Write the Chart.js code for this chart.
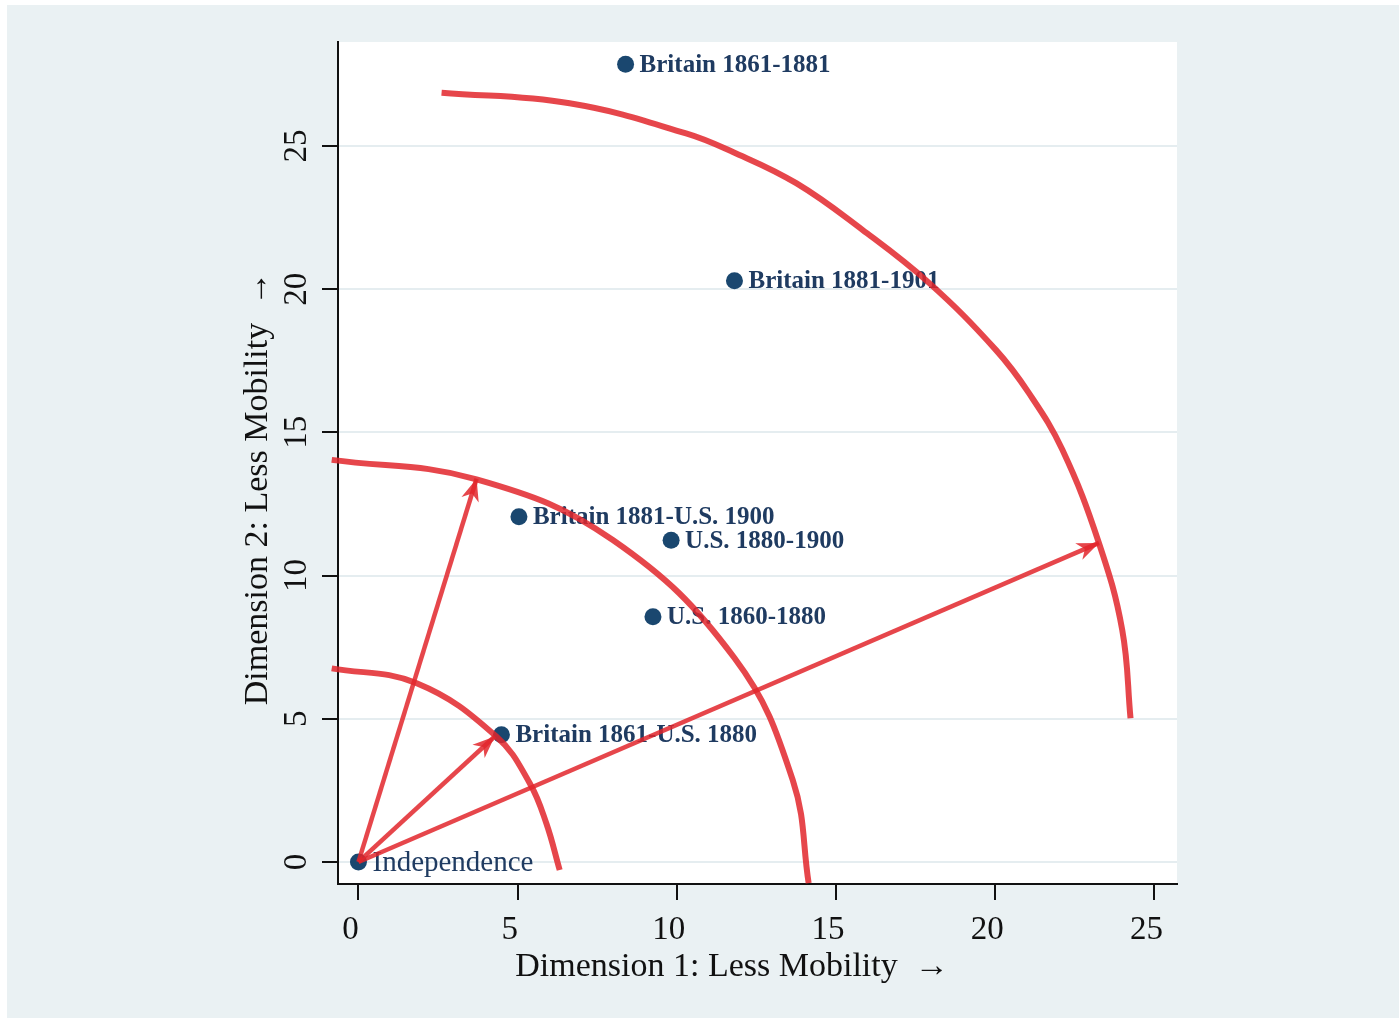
<!DOCTYPE html>
<html lang="en">
<head>
  <meta charset="UTF-8">
  <title>Mobility dimensions</title>
  <script src="https://cdn.jsdelivr.net/npm/chart.js"></script>
  <style>
    html, body { margin: 0; padding: 0; background: #fff; }
    canvas { display: block; }
  </style>
</head>
<body>
  <canvas id="mobChart" width="1399" height="1021"></canvas>
  <script>
    // values
    const xTicks = [0, 5, 10, 15, 20, 25];
    const yTicks = [0, 5, 10, 15, 20, 25];

    const pointNames = ['Independence', 'Britain 1861-U.S. 1880', 'U.S. 1860-1880', 'U.S. 1880-1900',
                        'Britain 1881-U.S. 1900', 'Britain 1881-1901', 'Britain 1861-1881'];
    const pointX = [0, 4.49, 9.25, 9.82, 5.04, 11.81, 8.39];
    const pointY = [0, 4.44, 8.56, 11.23, 12.05, 20.29, 27.85];

    const arcSmallX = [-0.84, 1.83, 4.33, 5.38, 5.90, 6.32];
    const arcSmallY = [6.76, 6.24, 4.38, 2.75, 1.35, -0.28];

    const arcMidX = [-0.84, 3.71, 7.99, 11.81, 13.64, 14.14];
    const arcMidY = [14.04, 13.36, 11.24, 7.12, 2.86, -0.74];

    const arcBigX = [2.61, 6.63, 10.29, 11.76, 13.75, 15.83, 17.93, 20.02, 21.06, 22.11, 23.26, 23.99, 24.25];
    const arcBigY = [26.86, 26.49, 25.44, 24.79, 23.70, 22.07, 20.21, 17.88, 16.37, 14.39, 11.13, 8.10, 5.02];

    const arrowFromX = [0, 0, 0];
    const arrowFromY = [0, 0, 0];
    const arrowToX = [3.71, 4.28, 23.26];
    const arrowToY = [13.38, 4.38, 11.14];

    const SERIF = '"Liberation Serif", "DejaVu Serif", serif';
    const RED = 'rgba(226, 38, 44, 0.85)';
    const NAVY = '#1a476f';
    const LABEL = '#1f3b61';

    const toXY = (xs, ys) => xs.map((x, i) => ({ x: x, y: ys[i] }));

    const arcSet = (xs, ys) => ({
      data: toXY(xs, ys), showLine: true, borderColor: RED, borderWidth: 6,
      pointRadius: 0, tension: 0.4, clip: 10, order: 1
    });

    const arrowSets = arrowToX.map((tx, i) => ({
      data: [{ x: arrowFromX[i], y: arrowFromY[i] }, { x: tx, y: arrowToY[i] }],
      showLine: true, borderColor: RED, borderWidth: 4.5, pointRadius: 0,
      clip: 10, order: 0, isArrow: true
    }));

    const panelBg = {
      id: 'panelBg',
      beforeDraw(chart) {
        const { ctx, chartArea: a } = chart;
        ctx.save();
        ctx.fillStyle = '#ffffff';
        ctx.fillRect(0, 0, chart.width, chart.height);
        ctx.fillStyle = '#eaf1f3';
        ctx.fillRect(7, 5, chart.width - 7, chart.height - 8);
        ctx.fillStyle = '#ffffff';
        ctx.fillRect(a.left, a.top, a.right - a.left, a.bottom - a.top);
        ctx.restore();
      }
    };

    // point labels go under the red lines
    const pointText = {
      id: 'pointText',
      beforeDatasetsDraw(chart) {
        const { ctx, scales: { x, y } } = chart;
        ctx.save();
        ctx.fillStyle = LABEL;
        ctx.textBaseline = 'middle';
        ctx.textAlign = 'left';
        pointNames.forEach((name, i) => {
          ctx.font = i === 0 ? '29px ' + SERIF : 'bold 25px ' + SERIF;
          ctx.fillText(name, x.getPixelForValue(pointX[i]) + 14, y.getPixelForValue(pointY[i]) + 1);
        });
        ctx.restore();
      }
    };

    const arrowHeads = {
      id: 'arrowHeads',
      afterDatasetsDraw(chart) {
        const { ctx } = chart;
        ctx.save();
        ctx.fillStyle = RED;
        chart.data.datasets.forEach((ds, i) => {
          if (!ds.isArrow) return;
          const pts = chart.getDatasetMeta(i).data;
          const a = pts[0], b = pts[pts.length - 1];
          const ang = Math.atan2(b.y - a.y, b.x - a.x);
          const len = 22, half = 9;
          const c = Math.cos(ang), s = Math.sin(ang);
          ctx.beginPath();
          ctx.moveTo(b.x, b.y);
          ctx.lineTo(b.x - len * c + half * s, b.y - len * s - half * c);
          ctx.lineTo(b.x - 0.7 * len * c, b.y - 0.7 * len * s);
          ctx.lineTo(b.x - len * c - half * s, b.y - len * s + half * c);
          ctx.closePath();
          ctx.fill();
        });
        ctx.restore();
      }
    };

    new Chart(document.getElementById('mobChart').getContext('2d'), {
      type: 'scatter',
      data: {
        datasets: [
          ...arrowSets,
          arcSet(arcSmallX, arcSmallY),
          arcSet(arcMidX, arcMidY),
          arcSet(arcBigX, arcBigY),
          {
            data: toXY(pointX, pointY), backgroundColor: NAVY, borderWidth: 0,
            pointRadius: 8.5, order: 5
          }
        ]
      },
      options: {
        responsive: false,
        animation: false,
        layout: { padding: { top: 42, right: 222, left: 0, bottom: 0 } },
        plugins: { legend: { display: false }, tooltip: { enabled: false } },
        scales: {
          x: {
            type: 'linear', min: -0.643, max: 25.71,
            afterBuildTicks: s => { s.ticks = xTicks.map(v => ({ value: v })); },
            afterFit: s => { s.height = 137; },
            grid: { drawOnChartArea: false, color: '#111', lineWidth: 2, tickLength: 16 },
            border: { color: '#111', width: 2 },
            ticks: { font: { family: SERIF, size: 33 }, color: '#111', padding: 11, labelOffset: -8, maxRotation: 0 },
            title: {
              display: true, text: 'Dimension 1: Less Mobility  \u2192\u2002\u2002\u2002',
              font: { family: SERIF, size: 34 }, color: '#111', padding: { top: 0, bottom: 34 }
            }
          },
          y: {
            type: 'linear', min: -0.77, max: 28.63,
            afterBuildTicks: s => { s.ticks = yTicks.map(v => ({ value: v })); },
            afterFit: s => { s.width = 338; },
            grid: { color: '#e5edf0', lineWidth: 2, tickColor: '#111', tickWidth: 2, tickLength: 16 },
            border: { color: '#111', width: 2 },
            ticks: { font: { family: SERIF, size: 33 }, color: '#111', minRotation: 90, maxRotation: 90, crossAlign: 'center', padding: 8 },
            title: {
              display: true, text: 'Dimension 2: Less Mobility  \u2192\u2002\u2002\u2002',
              font: { family: SERIF, size: 34 }, color: '#111', padding: { top: 238, bottom: 0 }
            }
          }
        }
      },
      plugins: [panelBg, pointText, arrowHeads]
    });
  </script>
</body>
</html>
